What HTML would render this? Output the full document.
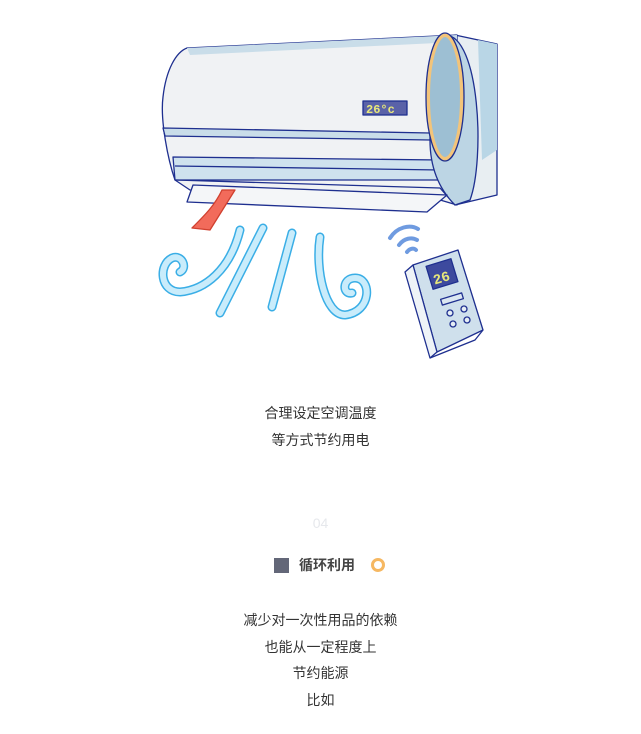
<!DOCTYPE html>
<html><head><meta charset="utf-8"><style>
html,body{margin:0;padding:0;background:#fff;width:641px;height:734px;overflow:hidden;position:relative;font-family:"Liberation Sans","Noto Sans CJK SC",sans-serif;}
.t{position:absolute;left:0;width:641px;text-align:center;font-size:14px;color:#333;line-height:20px;}
</style></head><body>
<svg width="641" height="370" style="position:absolute;left:0;top:0" viewBox="0 0 641 370">
<g stroke="#1e2f8f" stroke-width="1.3" stroke-linejoin="round">
<!-- side panel -->
<path d="M455,35 L497,44 L497,195 L455,205 Z" fill="#e8eef2"/>
<path d="M478,40 L497,44 L497,150 L482,160 Z" fill="#b9d6e6" stroke="none"/>
<!-- body -->
<path d="M187,48 L457,35 L457,205 L430,197 L190,190 L175,180 C168,160 160,120 163,97 C166,70 176,52 187,48 Z" fill="#f0f2f4"/>
<path d="M187,48 L457,35 L457,42 L190,55 Z" fill="#c9dde9" stroke="none"/>
<path d="M163,128 L430,133 L430,140 L165,136 Z" fill="#c9dde9"/>
<path d="M173,157 L440,160 L440,180 L175,180 Z" fill="#cfe2ee"/>
<path d="M175,166 L440,170" fill="none"/>
<path d="M175,180 L440,188 L455,205" fill="none"/>
<!-- end cap -->
<path d="M445,35 C480,35 485,160 470,200 L455,205 C440,190 430,170 430,140 Z" fill="#bcd5e4"/>
<ellipse cx="445" cy="97" rx="17" ry="62" fill="#9dbfd3" stroke="#f3c47a" stroke-width="4"/>
<ellipse cx="445" cy="97" rx="19" ry="64" fill="none"/>
<!-- vane -->
<path d="M187,202 L193,185 L447,195 L427,212 Z" fill="#f4f6f8"/>
<!-- ribbon -->
<path d="M192,228 L210,230 L235,190 L222,190 C215,205 205,215 192,228 Z" fill="#f26b5b" stroke="#d0402f"/>
<!-- display -->
<rect x="363" y="101" width="44" height="14" fill="#5a62a8"/>
<text x="366" y="113" font-family="Liberation Mono,monospace" font-size="12" font-weight="bold" fill="#e8e87a" stroke="none">26°c</text>
<!-- remote -->
<path d="M413,265 L458,250 L483,330 L437,352 Z" fill="#cfe0ec"/>
<path d="M413,265 L405,272 L430,358 L437,352 Z" fill="#eef3f7"/>
<path d="M430,358 L475,340 L483,330" fill="none"/>
<rect x="429" y="262" width="26" height="24" fill="#3d4a9e" transform="rotate(-17 442 274)"/>
<text x="432" y="282" font-family="Liberation Mono,monospace" font-size="14" font-weight="bold" fill="#e8e87a" stroke="none" transform="rotate(-17 442 274)">26</text>
<rect x="441" y="296" width="22" height="6" fill="#dbe7f1" transform="rotate(-17 452 299)"/>
<circle cx="450" cy="313" r="3" fill="#e6eef5"/><circle cx="464" cy="309" r="3" fill="#e6eef5"/>
<circle cx="453" cy="324" r="3" fill="#e6eef5"/><circle cx="467" cy="320" r="3" fill="#e6eef5"/>
</g>
<!-- signal -->
<g fill="none" stroke="#6f9be0" stroke-width="4" stroke-linecap="round">
<path d="M390,238 C397,227 410,224 418,229"/>
<path d="M399,245 C404,238 412,237 417,240"/>
<path d="M407,252 C410,248 414,248 416,250"/>
</g>
<!-- wind -->
<g fill="none" stroke-linecap="round">
<g stroke="#3aaee6" stroke-width="9">
<path d="M240,230 C230,270 205,290 180,292 C160,292 158,265 172,258 C182,254 188,268 180,272"/>
<path d="M263,228 L220,313"/>
<path d="M292,233 L272,307"/>
<path d="M320,237 C315,270 325,315 345,315 C372,312 372,278 355,278 C342,278 342,295 352,293"/>
</g>
<g stroke="#c9ecfb" stroke-width="6">
<path d="M240,230 C230,270 205,290 180,292 C160,292 158,265 172,258 C182,254 188,268 180,272"/>
<path d="M263,228 L220,313"/>
<path d="M292,233 L272,307"/>
<path d="M320,237 C315,270 325,315 345,315 C372,312 372,278 355,278 C342,278 342,295 352,293"/>
</g>
</g>
</svg>
<div class="t" style="top:403px">合理设定空调温度</div>
<div class="t" style="top:430px">等方式节约用电</div>
<div class="t" style="top:513px;color:#e6e8ec">04</div>
<div style="position:absolute;left:274px;top:558px;width:15px;height:15px;background:#636778"></div>
<div class="t" style="top:555px;left:299px;width:70px;text-align:left;font-weight:bold;color:#444">循环利用</div>
<div style="position:absolute;left:371px;top:558px;width:8px;height:8px;border:3.5px solid #f6b862;border-radius:50%"></div>
<div class="t" style="top:610px">减少对一次性用品的依赖</div>
<div class="t" style="top:637px">也能从一定程度上</div>
<div class="t" style="top:663px">节约能源</div>
<div class="t" style="top:690px">比如</div>
</body></html>
